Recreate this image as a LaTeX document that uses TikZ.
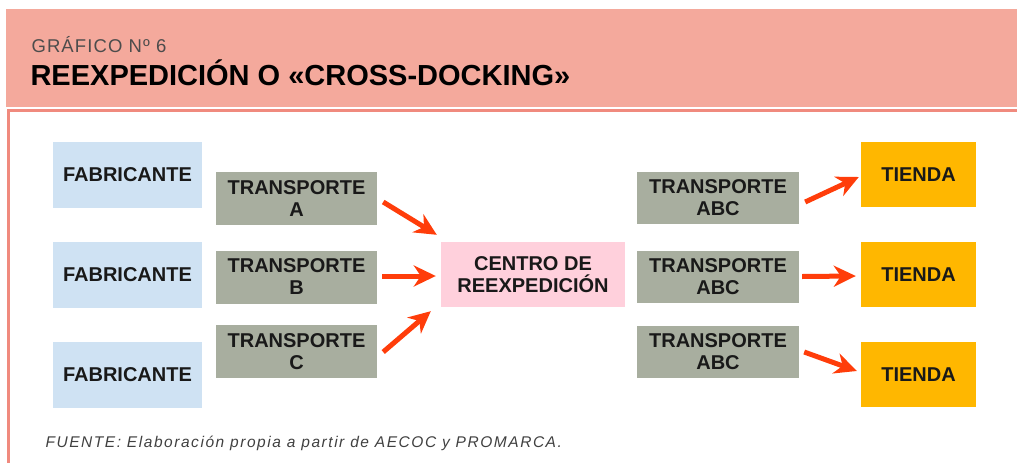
\documentclass[tikz,border=0pt]{standalone}
\usepackage{fontspec}
\setmainfont{Liberation Sans}
\newfontfamily\notefont[LetterSpace=10]{Liberation Sans}
\newfontfamily\subfont[LetterSpace=6]{Liberation Sans}
\usetikzlibrary{arrows.meta}

\definecolor{bandcol}{HTML}{F4A99C}
\definecolor{framecol}{HTML}{F08A7E}
\definecolor{fabcol}{HTML}{CFE2F3}
\definecolor{trancol}{HTML}{A8AE9F}
\definecolor{centcol}{HTML}{FFD0DC}
\definecolor{tiendacol}{HTML}{FFB700}
\definecolor{arrcol}{HTML}{FF3D0A}

\begin{document}
\begin{tikzpicture}[x=1pt,y=-1pt,
    box/.style={inner sep=0pt,align=center,text=black!90,
      font=\fontsize{20}{22}\selectfont\bfseries},
    fab/.style={box,fill=fabcol,minimum width=149pt,minimum height=66pt},
    tran/.style={box,fill=trancol,minimum width=161pt,minimum height=53pt},
    cent/.style={box,fill=centcol,minimum width=184pt,minimum height=65pt},
    tienda/.style={box,fill=tiendacol,minimum width=115pt,minimum height=65pt},
    flow/.style={draw=arrcol,line width=5pt,
      -{Stealth[length=22pt,width=21pt,inset=7pt]}}]
  \useasboundingbox (0,0) rectangle (1017,463);

  % cabecera
  \fill[bandcol] (6,9) rectangle (1017,107);
  \draw[framecol,line width=3pt] (8.5,463) -- (8.5,110) -- (1017,110);
  \node[anchor=base west,text=black!70,font=\subfont\fontsize{18.5}{20}\selectfont]
    (sub) at (28,52) {GRÁFICO Nº 6};
  \node[anchor=base west,text=black,font=\fontsize{29}{32}\selectfont\bfseries]
    (title) at (27,85) {REEXPEDICIÓN O «CROSS-DOCKING»};

  % fabricantes
  \node[fab] (f1) at (127.5,174.5) {FABRICANTE};
  \node[fab] (f2) at (127.5,274.5) {FABRICANTE};
  \node[fab] (f3) at (127.5,374.5) {FABRICANTE};

  % transportes de entrada
  \node[tran] (ta) at (296.5,198.5) {TRANSPORTE\\A};
  \node[tran] (tb) at (296.5,277) {TRANSPORTE\\B};
  \node[tran] (tc) at (296.5,351.5) {TRANSPORTE\\C};

  \node[cent] (centro) at (533,274.5) {CENTRO DE\\REEXPEDICIÓN};

  % transportes de salida
  \node[tran,minimum width=162pt,minimum height=52pt] (ra) at (718,198) {TRANSPORTE\\ABC};
  \node[tran,minimum width=162pt,minimum height=52pt] (rb) at (718,276.5) {TRANSPORTE\\ABC};
  \node[tran,minimum width=162pt,minimum height=52pt] (rc) at (718,351.5) {TRANSPORTE\\ABC};

  % tiendas
  \node[tienda] (t1) at (918.5,174.5) {TIENDA};
  \node[tienda] (t2) at (918.5,274.5) {TIENDA};
  \node[tienda] (t3) at (918.5,374.5) {TIENDA};

  \draw[flow] ([shift={(6,3.5)}]ta.east) -- ([shift={(-4,-7)}]centro.north west);
  \draw[flow] ([shift={(5,-1)}]tb.east) -- ([shift={(-5,1.5)}]centro.west);
  \draw[flow] ([shift={(6,0.5)}]tc.east) -- ([shift={(-10,4)}]centro.south west);

  \draw[flow] ([shift={(6,4)}]ra.east) -- ([shift={(-2,2.5)}]t1.west);
  \draw[flow] ([shift={(3,0)}]rb.east) -- ([shift={(-5,1.5)}]t2.west);
  \draw[flow] ([shift={(5,0.5)}]rc.east) -- ([shift={(-4,-3.5)}]t3.west);

  \node[anchor=west,text=black!75,font=\notefont\fontsize{15.5}{18}\selectfont\itshape]
    (fuente) at (42,443) {FUENTE: Elaboración propia a partir de AECOC y PROMARCA.};
\end{tikzpicture}
\end{document}
